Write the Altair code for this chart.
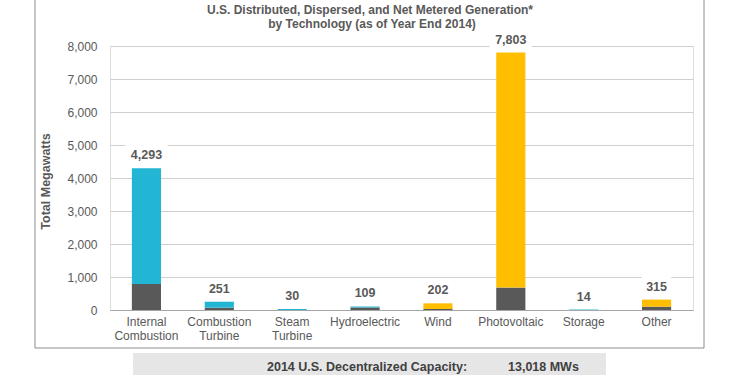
import altair as alt
import pandas as pd

# ---- data ----
categories = ["Internal Combustion", "Combustion Turbine", "Steam Turbine", "Hydroelectric",
              "Wind", "Photovoltaic", "Storage", "Other"]
totals = [4293, 251, 30, 109, 202, 7803, 14, 315]
base_mw = [790, 70, 0, 75, 30, 680, 0, 100]
top_colors = ["#22B6D4", "#22B6D4", "#22B6D4", "#22B6D4", "#FFBF00", "#FFBF00", "#22B6D4", "#FFBF00"]
BASE_COLOR = "#595959"

title_lines = ["U.S. Distributed, Dispersed, and Net Metered Generation*",
               "by Technology (as of Year End 2014)"]
banner_label = "2014 U.S. Decentralized Capacity:"
banner_value = "13,018 MWs"
y_ticks = [0, 1000, 2000, 3000, 4000, 5000, 6000, 7000, 8000]

TXT = "#595959"
FONT = "Liberation Sans"

rows = []
for c, t, b, col in zip(categories, totals, base_mw, top_colors):
    rows.append({"cat": c, "part": "base", "ord": 0, "mw": b, "color": BASE_COLOR})
    rows.append({"cat": c, "part": "top", "ord": 1, "mw": t - b, "color": col})
df = pd.DataFrame(rows)
lab = pd.DataFrame({"cat": categories, "total": totals})
one = pd.DataFrame({"k": [0]})

xscale = alt.Scale(domain=categories, paddingInner=0.6, paddingOuter=0.3)
yscale = alt.Scale(domain=[0, 8000], nice=False)

x_axis = alt.Axis(title=None, labelExpr="split(datum.label, ' ')", labelAngle=0,
                  labelPadding=6, labelLineHeight=14, labelFontSize=12,
                  labelColor=TXT, domainColor="#a6a6a6", ticks=False, grid=False)
y_axis = alt.Axis(title="Total Megawatts", values=y_ticks, format=",.0f", grid=True,
                  gridColor="#d0d0d0", domain=False, ticks=False, labelPadding=13,
                  labelFontSize=12, labelColor=TXT, titleFontSize=12.5,
                  titleFontWeight="bold", titleColor=TXT, titleX=-65, titleY=135,
                  titleAngle=-90, titleAlign="center", titleBaseline="middle")

x_enc = alt.X("cat:N", sort=categories, scale=xscale, axis=x_axis)

bars = alt.Chart(df).mark_bar().encode(
    x=x_enc,
    y=alt.Y("mw:Q", stack="zero", scale=yscale, axis=y_axis),
    color=alt.Color("color:N", scale=None),
    order=alt.Order("ord:Q"),
)

label_bg = alt.Chart(lab).transform_calculate(
    w="length(format(datum.total, ',.0f'))*6.5+10"
).mark_bar(color="white", yOffset=-3, y2Offset=-23.5).encode(
    x=x_enc,
    y=alt.Y("total:Q", scale=yscale, axis=y_axis),
    y2="total:Q",
    size=alt.Size("w:Q", scale=None),
)

labels = alt.Chart(lab).mark_text(dy=-13, baseline="middle", fontWeight="bold",
                                  fontSize=12.5, color=TXT).encode(
    x=x_enc,
    y=alt.Y("total:Q", scale=yscale, axis=y_axis),
    text=alt.Text("total:Q", format=",.0f"),
)

BOX = "#8c8c8c"
box_l = alt.Chart(one).mark_rule(color=BOX).encode(x=alt.value(-75), y=alt.value(-46), y2=alt.value(302))
box_r = alt.Chart(one).mark_rule(color=BOX).encode(x=alt.value(594), y=alt.value(-46), y2=alt.value(302))
box_b = alt.Chart(one).mark_rule(color=BOX).encode(x=alt.value(-75), x2=alt.value(594), y=alt.value(302))

t1 = alt.Chart(one).mark_text(fontWeight="bold", fontSize=12, color=TXT, baseline="middle").encode(
    x=alt.value(260), y=alt.value(-36), text=alt.value(title_lines[0]))
t2 = alt.Chart(one).mark_text(fontWeight="bold", fontSize=12, color=TXT, baseline="middle").encode(
    x=alt.value(262), y=alt.value(-22), text=alt.value(title_lines[1]))

banner = alt.Chart(one).mark_rect(color="#e6e6e6").encode(
    x=alt.value(23), x2=alt.value(496), y=alt.value(307), y2=alt.value(332))
b1 = alt.Chart(one).mark_text(fontWeight="bold", fontSize=12.5, color="#404040", align="left",
                              baseline="middle").encode(
    x=alt.value(157), y=alt.value(321), text=alt.value(banner_label))
b2 = alt.Chart(one).mark_text(fontWeight="bold", fontSize=12.5, color="#404040", align="left",
                              baseline="middle").encode(
    x=alt.value(398), y=alt.value(321), text=alt.value(banner_value))

chart = alt.layer(bars, label_bg, labels, box_l, box_r, box_b, t1, t2, banner, b1, b2).properties(
    width=583, height=264,
    autosize=alt.AutoSizeParams(type="none"),
    padding={"left": 110, "top": 46, "right": 47, "bottom": 65},
).configure_view(stroke=None).configure(font=FONT)

chart.save("out.html", embed_options={"renderer": "svg", "actions": False})
